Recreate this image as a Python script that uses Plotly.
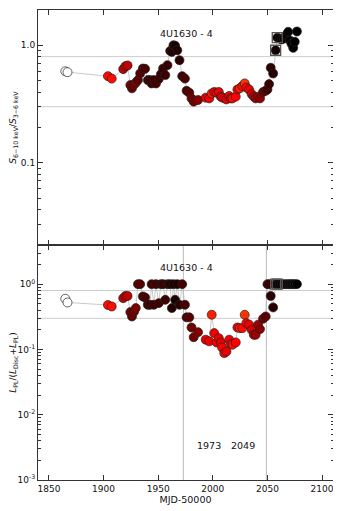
import plotly.graph_objects as go
from plotly.subplots import make_subplots

# MJD-50000 of each observation
mjd = [1865, 1867, 1904, 1907.5, 1918, 1920, 1922, 1924.5, 1926, 1928, 1929.5, 1931.5, 1933.5,
       1936, 1938, 1940.5, 1942.5, 1944, 1946, 1948, 1950.5, 1952.5, 1954.5, 1956.5, 1958.5,
       1961, 1962.5, 1964, 1965.5, 1967.5, 1969.5, 1972, 1974.5, 1976, 1978.5, 1980.5, 1982.5,
       1986.5, 1993.5, 1996.7, 1999, 2001.3, 2003.5, 2005.5, 2007.3, 2008.5, 2010.5, 2012.5,
       2015, 2016.5, 2018, 2021, 2022.5, 2024.7, 2027, 2029.2, 2030.7, 2033.2, 2035.5, 2037.5,
       2039.2, 2041.5, 2043.2, 2046, 2048.4, 2050, 2051.5, 2053, 2055.2, 2057.5, 2059,
       2061, 2063, 2065, 2067, 2069, 2070.5, 2072, 2073.6, 2075, 2077]

# hardness ratio S(6-10 keV)/S(3-6 keV)
hardness = [0.60, 0.59, 0.546, 0.52, 0.626, 0.664, 0.673, 0.458, 0.43, 0.464, 0.48, 0.505, 0.575,
            0.634, 0.63, 0.505, 0.505, 0.473, 0.505, 0.473, 0.515, 0.568, 0.634, 0.557, 0.677,
            0.895, 0.878, 1.0, 0.99, 0.907, 0.746, 0.546, 0.52, 0.41, 0.394, 0.353, 0.331,
            0.342, 0.358, 0.353, 0.389, 0.40, 0.394, 0.40, 0.365, 0.36, 0.353, 0.346,
            0.37, 0.353, 0.353, 0.365, 0.42, 0.43, 0.45, 0.473, 0.437, 0.42, 0.385, 0.365,
            0.353, 0.365, 0.353, 0.40, 0.41, 0.42, 0.467, 0.643, 0.575, 0.907, 1.16,
            1.14, 1.12, 1.14, 1.22, 1.30, 1.10, 1.03, 0.95, 1.07, 1.31]

# power-law fraction L_PL/(L_Disc+L_PL)
pl_frac = [0.597, 0.524, 0.48, 0.455, 0.61, 0.66, 0.66, 0.373, 0.32, 0.38, 0.43, 1.0, 1.0,
           0.648, 0.625, 0.483, 0.483, 1.0, 0.483, 1.0, 0.512, 1.0, 1.0, 0.576, 1.0,
           1.0, 0.43, 1.0, 0.576, 1.0, 0.483, 1.0, 0.483, 0.31, 0.31, 0.217, 0.154,
           0.184, 0.141, 0.133, 0.34, 0.178, 0.128, 0.149, 0.128, 0.107, 0.088, 0.093,
           0.141, 0.122, 0.118, 0.128, 0.217, 0.212, 0.212, 0.339, 0.253, 0.24, 0.2, 0.168,
           0.168, 0.24, 0.205, 0.295, 0.32, 1.0, 1.0, 0.66, 0.44, 1.0, 1.0,
           1.0, 1.0, 1.0, 1.0, 1.0, 1.0, 1.0, 1.0, 1.0, 1.0]

# colour level of each point (0 black -> red -> white)
level = [1.0, 1.0, 0.76, 0.76, 0.62, 0.6, 0.62, 0.45, 0.42, 0.45, 0.48, 0.4, 0.38,
         0.35, 0.33, 0.3, 0.28, 0.3, 0.27, 0.3, 0.28, 0.27, 0.25, 0.27, 0.25,
         0.15, 0.15, 0.12, 0.12, 0.15, 0.2, 0.3, 0.32, 0.35, 0.4, 0.45, 0.45,
         0.5, 0.7, 0.72, 0.78, 0.72, 0.75, 0.72, 0.7, 0.75, 0.72, 0.7,
         0.74, 0.72, 0.76, 0.75, 0.72, 0.78, 0.76, 0.8, 0.75, 0.72, 0.66, 0.6,
         0.55, 0.55, 0.5, 0.45, 0.4, 0.3, 0.25, 0.2, 0.18, 0.08, 0.06,
         0.04, 0.03, 0.03, 0.02, 0.02, 0.02, 0.01, 0.01, 0.0, 0.0]

highlight = [2057.5, 2059]
state_lines = [0.8, 0.3]
transitions = [1973, 2049]
source = "4U1630 - 4"

colorscale = [[0, "#000000"], [0.4, "#5a0000"], [0.75, "#ff0000"], [0.8, "#ff3300"], [1, "#ffffff"]]
FONT = "DejaVu Sans"
frame = "#333333"
guide = "#cccccc"

fig = make_subplots(rows=2, cols=1, shared_xaxes=True, vertical_spacing=0)

hl_idx = [mjd.index(m) for m in highlight]
for row, yvals in [(1, hardness), (2, pl_frac)]:
    # connecting line
    fig.add_trace(go.Scatter(x=mjd, y=yvals, mode="lines",
                             line=dict(color="#bbbbbb", width=0.8),
                             showlegend=False, hoverinfo="skip"), row=row, col=1)
    fig.add_trace(go.Scatter(x=mjd, y=yvals, mode="markers",
                             marker=dict(size=9, color=level, colorscale=colorscale,
                                         cmin=0, cmax=1,
                                         line=dict(color="#222222", width=0.7)),
                             showlegend=False), row=row, col=1)
    fig.add_trace(go.Scatter(x=[mjd[i] for i in hl_idx], y=[yvals[i] for i in hl_idx],
                             mode="markers",
                             marker=dict(size=10, symbol="square-open",
                                         color="#555555", line=dict(width=1.3)),
                             showlegend=False), row=row, col=1)
    for v in state_lines:
        fig.add_hline(y=v, line=dict(color=guide, width=1), layer="below", row=row, col=1)
    fig.add_annotation(x=1976, y=0.1 if row == 1 else 0.25, xref="x" if row == 1 else "x2",
                       yref="y" if row == 1 else "y2",
                       text=source, showarrow=False, font=dict(size=9.5, color="#111111"))

for t in transitions:
    fig.add_vline(x=t, line=dict(color="#bbbbbb", width=1), layer="below", row=2, col=1)
    fig.add_annotation(x=t + 23.5 if t == 1973 else t - 21.5, y=-2.47, xref="x2", yref="y2",
                       text=str(t), showarrow=False, font=dict(size=9.5, color="#111111"))

axis_common = dict(showline=True, linecolor=frame, linewidth=1, mirror="ticks",
                   ticks="inside", tickcolor=frame, showgrid=False, zeroline=False,
                   automargin=False)

fig.update_xaxes(range=[1840, 2110], tickvals=[1850, 1900, 1950, 2000, 2050, 2100],
                 ticklen=5, **axis_common)
fig.update_xaxes(showticklabels=False, row=1, col=1)
fig.update_xaxes(title=dict(text="MJD-50000", font=dict(size=9.5), standoff=1),
                 tickfont=dict(size=9), row=2, col=1)

minor_top = [v * 10 ** e for e in (-2, -1, 0) for v in range(2, 10)]
fig.update_yaxes(type="log", range=[-1.7, 0.3], tickvals=[0.1, 1.0], ticktext=["0.1", "1.0"],
                 ticklen=5, tickfont=dict(size=9),
                 minor=dict(tickvals=minor_top, ticks="inside", ticklen=2.5, tickcolor=frame),
                 title=dict(text="<i>S</i><sub>6−10 keV</sub>/<i>S</i><sub>3−6 keV</sub>",
                            font=dict(size=9), standoff=5),
                 row=1, col=1, **axis_common)

minor_bot = [v * 10 ** e for e in (-3, -2, -1, 0) for v in range(2, 10)]
fig.update_yaxes(type="log", range=[-3, 0.6], tickvals=[1e-3, 1e-2, 1e-1, 1],
                 ticktext=["10<sup>-3</sup>", "10<sup>-2</sup>", "10<sup>-1</sup>", "10<sup>0</sup>"],
                 ticklen=5, tickfont=dict(size=9),
                 minor=dict(tickvals=minor_bot, ticks="inside", ticklen=2.5, tickcolor=frame),
                 title=dict(text="<i>L</i><sub>PL</sub>/(<i>L</i><sub>Disc</sub>+<i>L</i><sub>PL</sub>)",
                            font=dict(size=9), standoff=21),
                 row=2, col=1, **axis_common)

# the page body adds an 8px margin, so the figure is drawn 8px smaller with shifted margins
fig.update_layout(width=333, height=503,
                  margin=dict(l=30, r=8, t=2, b=31),
                  plot_bgcolor="white", paper_bgcolor="white",
                  font=dict(family=FONT, color="#111111"),
                  showlegend=False)

fig.write_html("out.html")
